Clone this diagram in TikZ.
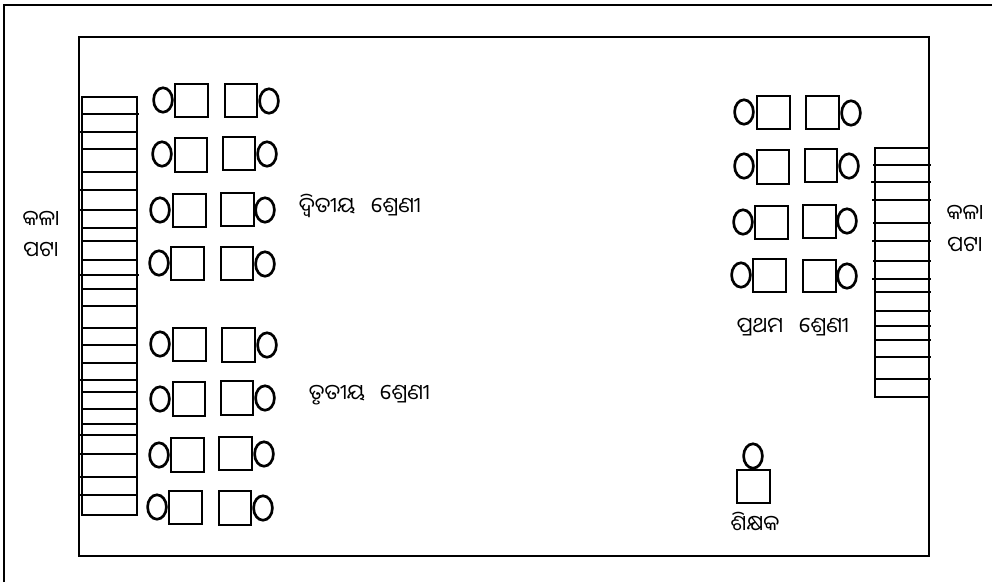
\documentclass[tikz,border=0pt]{standalone}
\usepackage{fontspec}
\newfontfamily\odia[Script=Oriya]{Noto Sans Oriya UI}
\tikzset{
  px/.style={x=0.75pt,y=-0.75pt},
  frameline/.style={draw=black,line width=1.8pt},
  boardline/.style={draw=black,line width=2pt},
  desk/.style={draw=black,line width=2pt,fill=white},
  seat/.style={draw=black,line width=2pt,fill=white},
  lab/.style={font=\odia\fontsize{16}{19}\selectfont,inner sep=0pt,anchor=base,text=black}
}
\begin{document}
\begin{tikzpicture}[px]
\useasboundingbox (0,0) rectangle (992,582);
\fill[white] (0,0) rectangle (992,582);
\draw[frameline] (4,582) -- (4,5) -- (992,5);
\draw[frameline] (79,37) rectangle (929,556);
% left board
\draw[boardline] (82,97) rectangle (137,515);
\foreach \y/\a/\b in {114/82/139,132/80/137,149/82/137,172/82/137,190/80/137,210/80/137,228/82/137,241/82/137,260/82/137,275/80/139,289/82/137,306/82/137,328/82/137,345/82/137,363/82/137,380/80/137,392/82/137,409/82/137,424/82/137,435/80/137,454/80/137,477/80/137,495/80/137}
  {\draw[boardline] (\a,\y) -- (\b,\y);}
% right board
\draw[boardline] (875,148) rectangle (929,397);
\foreach \y/\a in {165/873,182/871,200/872,223/873,241/872,261/873,279/872,292/874,311/874,326/874,340/875,357/875,379/875}
  {\draw[boardline] (\a,\y) -- (931,\y);}
% seats
\foreach \x/\y in {163/100,269/101,162/154,267/154,160/210,265/210,159/263,265/264,160/344,267/345,160/399,265/398,159/455,264/454,157/507,263/508,744/112,851/113,744/166,849/166,743/222,847/221,741/275,847/276,753/456}
  {\draw[seat] (\x,\y) ellipse [x radius=7.05pt,y radius=9.15pt];}
% desks
\foreach \xa/\ya/\xb/\yb in {175/84/208/117,225/84/257/117,175/138/207/172,223/137/255/170,173/194/206/227,221/193/254/226,171/247/204/280,221/247/253/280,173/328/206/361,222/328/255/362,173/382/205/416,221/381/253/415,171/438/204/472,219/437/252/470,169/491/202/524,219/491/251/525,757/96/790/129,806/96/839/129,757/150/789/184,805/149/837/182,755/206/788/239,803/205/836/238,753/259/786/292,803/260/836/292,737/470/770/503}
  {\filldraw[desk] (\xa,\ya) rectangle (\xb,\yb);}
% labels
\node[lab] (kala1) at (41,227) {କଳା};
\node[lab] (pata1) at (41,258) {ପଟା};
\node[lab] (kala2) at (965,221) {କଳା};
\node[lab] (pata2) at (965,253) {ପଟା};
\node[lab] (dw) at (327,214) {ଦ୍ୱିତୀୟ};
\node[lab] (s1) at (396,214) {ଶ୍ରେଣୀ};
\node[lab] (tr) at (337,401) {ତୃତୀୟ};
\node[lab] (s2) at (405,401) {ଶ୍ରେଣୀ};
\node[lab] (pr) at (760,334) {ପ୍ରଥମ};
\node[lab] (s3) at (824,334) {ଶ୍ରେଣୀ};
\node[lab] (si) at (755,532) {ଶିକ୍ଷକ};
\end{tikzpicture}
\end{document}
